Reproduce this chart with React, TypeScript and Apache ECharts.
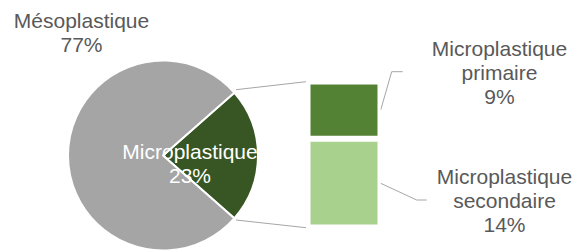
import React, { useEffect, useRef } from "react";
import * as echarts from "echarts";

const pieCategories = ["Microplastique", "Mésoplastique"];
const pieValues = [23, 77];
const pieColors = ["#375623", "#A5A5A5"];

const barCategories = ["Microplastique primaire", "Microplastique secondaire"];
const barValues = [9, 14];
const barColors = ["#548235", "#A9D18E"];

const FONT = "'Liberation Sans', Arial, sans-serif";
const TEXT = "#595959";

export default function App() {
  const ref = useRef<HTMLDivElement>(null);
  useEffect(() => {
    if (!ref.current) return;
    const chart = echarts.init(ref.current, undefined, { renderer: "svg" });
    const total = pieValues.reduce((a, b) => a + b, 0);
    const start = (pieValues[0] / total) * 180;
    const pieLabelPos = [
      { x: 190, y: 163 },
      { x: 81.5, y: 32.5 },
    ];
    const barLabelPos: Record<string, { x: number; y: number }> = {
      [barCategories[0]]: { x: 499.5, y: 72 },
      [barCategories[1]]: { x: 504.5, y: 200 },
    };
    const lineStyle = { stroke: "#A6A6A6", lineWidth: 1, fill: "none" };
    const option: any = {
      animation: false,
      backgroundColor: "#fff",
      grid: { left: 307.5, top: 81.5, width: 73, height: 146, containLabel: false },
      xAxis: { type: "category", data: ["Microplastique"], show: false },
      yAxis: { type: "value", min: 0, max: pieValues[0], show: false },
      graphic: [
        { type: "line", shape: { x1: 236, y1: 89.7, x2: 306, y2: 81.7 }, style: lineStyle, silent: true },
        { type: "line", shape: { x1: 236, y1: 220, x2: 306, y2: 227.7 }, style: lineStyle, silent: true },
        { type: "polyline", shape: { points: [[380.7, 110], [391.7, 71.7], [402.7, 71.7]] }, style: lineStyle, silent: true },
        { type: "polyline", shape: { points: [[380.7, 183.3], [416.7, 200], [426.7, 200]] }, style: lineStyle, silent: true },
      ],
      series: [
        {
          type: "pie",
          center: [163, 155.5],
          radius: 95,
          startAngle: start,
          clockwise: true,
          avoidLabelOverlap: false,
          data: pieCategories.map((n, i) => ({
            name: n,
            value: pieValues[i],
            itemStyle: { color: pieColors[i] },
            label: { color: i === 0 ? "#fff" : TEXT },
          })),
          itemStyle: { borderColor: "#fff", borderWidth: 2 },
          label: {
            show: true,
            position: "inside",
            formatter: (p: any) => `${p.name}\n${Math.round((p.value / total) * 100)}%`,
            fontFamily: FONT,
            fontSize: 21,
            lineHeight: 24,
            align: "center",
          },
          labelLine: { show: false },
          labelLayout: (p: any) => ({
            x: pieLabelPos[p.dataIndex].x,
            y: pieLabelPos[p.dataIndex].y,
            align: "center",
            verticalAlign: "middle",
            hideOverlap: false,
          }),
          emphasis: { disabled: true },
        },
        ...barCategories
          .map((n, i) => ({
            type: "bar",
            name: n,
            stack: "micro",
            barWidth: "100%",
            data: [barValues[i]],
            itemStyle: { color: barColors[i], borderColor: "#fff", borderWidth: 3 },
            label: {
              show: true,
              formatter: (p: any) => `${p.seriesName.replace(" ", "\n")}\n${p.value}%`,
              color: TEXT,
              fontFamily: FONT,
              fontSize: 21,
              lineHeight: 24,
              align: "center",
            },
            labelLayout: () => ({
              x: barLabelPos[n].x,
              y: barLabelPos[n].y,
              align: "center",
              verticalAlign: "middle",
              hideOverlap: false,
            }),
            emphasis: { disabled: true },
          }))
          .reverse(),
      ],
    };
    chart.setOption(option);
    return () => chart.dispose();
  }, []);
  return <div ref={ref} style={{ width: 585, height: 251, position: "absolute", left: 0, top: 0 }} />;
}
